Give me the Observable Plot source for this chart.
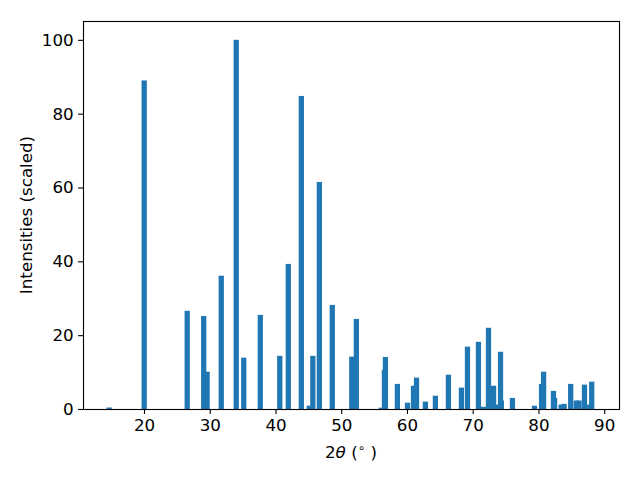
<!DOCTYPE html>
<html>
<head>
<meta charset="utf-8">
<script src="https://cdn.jsdelivr.net/npm/d3@7"></script>
<script src="https://cdn.jsdelivr.net/npm/@observablehq/plot@0.6"></script>
<style>
  html, body { margin: 0; padding: 0; background: white; }
  svg { display: block; }
</style>
</head>
<body>
<div id="chart"></div>
<script>
// Peak positions (2θ, degrees) in drawing order
const positions = [14.7, 20.03, 26.57, 29.6, 29.08, 31.75, 34.03, 35.17, 37.69, 40.65,
  41.95, 43.93, 45.13, 45.68, 46.67, 48.64, 51.6, 52.3, 56.1, 56.57,
  56.72, 58.54, 60.08, 60.99, 61.45, 62.8, 64.32, 66.3, 68.28, 69.2,
  70.87, 71.65, 72.4, 73.17, 73.62, 74.35, 74.23, 76.04, 79.4, 80.47,
  80.78, 82.45, 82.28, 83.45, 83.9, 84.9, 85.75, 86.17, 87.0, 87.8, 88.1];
// Scaled intensities
const intensities = [0.4, 89, 26.6, 10.1, 25.2, 36.1, 100, 13.9, 25.5, 14.4,
  39.3, 84.8, 0.9, 14.4, 61.5, 28.2, 14.2, 24.4, 0.35, 10.6,
  14.1, 6.8, 1.7, 6.3, 8.5, 2.0, 3.6, 9.3, 5.8, 16.9,
  18.2, 0.6, 22.0, 6.3, 1.2, 2.3, 15.5, 3.0, 0.9, 6.8,
  10.1, 3.0, 4.9, 1.2, 1.4, 6.8, 2.3, 2.3, 6.6, 1.2, 7.4];
const barWidth = 0.8;
const xTicks = [20, 30, 40, 50, 60, 70, 80, 90];
const yTicks = [0, 20, 40, 60, 80, 100];
const yLabel = "Intensities (scaled)";

const data = positions.map((p, i) => ({pos: p, val: intensities[i]}));
const FS = 16.7;

const svg = Plot.plot({
  width: 640,
  height: 480,
  marginLeft: 83,
  marginRight: 21,
  marginTop: 21,
  marginBottom: 71,
  style: {fontFamily: "DejaVu Sans", fontSize: FS + "px", background: "white", color: "black"},
  x: {domain: [10.72, 92.25]},
  y: {domain: [0, 105.1]},
  marks: [
    Plot.rect(data, {
      x1: d => d.pos - barWidth / 2,
      x2: d => d.pos + barWidth / 2,
      y1: 0,
      y2: "val",
      fill: "#1f77b4"
    }),
    Plot.axisX({ticks: xTicks, tickSize: 4.9, tickPadding: 4.9, label: null, fontSize: FS, strokeWidth: 1.1, tickFormat: d => String(d)}),
    Plot.axisY({ticks: yTicks, tickSize: 4.9, tickPadding: 4.9, label: null, fontSize: FS, strokeWidth: 1.1, tickFormat: d => String(d)}),
    Plot.frame({stroke: "black", strokeWidth: 1.1})
  ]
});

const s = d3.select(svg);
// x label: 2θ (°)
const xl = s.append("text")
  .attr("x", 351).attr("y", 458)
  .attr("text-anchor", "middle")
  .attr("font-family", "DejaVu Sans")
  .attr("font-size", FS)
  .attr("fill", "black");
xl.append("tspan").text("2");
xl.append("tspan").attr("font-style", "italic").text("θ");
xl.append("tspan").text(" (");
xl.append("tspan").attr("dy", -6).attr("font-size", 12).text("∘");
xl.append("tspan").attr("dy", 6).text(" )");

// y label
s.append("text")
  .attr("transform", "translate(32,215) rotate(-90)")
  .attr("text-anchor", "middle")
  .attr("font-family", "DejaVu Sans")
  .attr("font-size", FS)
  .attr("fill", "black")
  .text(yLabel);

document.getElementById("chart").appendChild(svg);
</script>
</body>
</html>
